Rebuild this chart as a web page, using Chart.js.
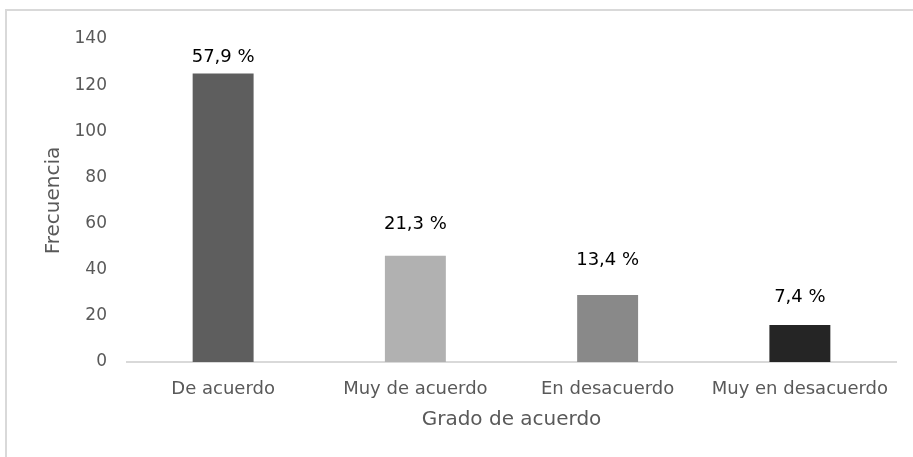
<!DOCTYPE html>
<html lang="es">
<head>
  <meta charset="UTF-8">
  <title>Grado de acuerdo</title>
  <script src="https://cdn.jsdelivr.net/npm/chart.js"></script>
  <style>
    html, body { margin: 0; background: #fff; overflow: hidden; font-family: "DejaVu Sans", Verdana, sans-serif; }
    .linea { position: absolute; background: #d9d9d9; }
    .arriba { left: 5px; top: 9px; width: 908px; height: 2px; }
    .izq { left: 5px; top: 9px; width: 2px; height: 448px; }
    .lienzo { position: absolute; left: 0; top: 0; width: 913px; height: 457px; }
  </style>
</head>
<body>

<div class="linea arriba"></div>
<div class="linea izq"></div>
<div class="lienzo"><canvas id="grafico"></canvas></div>

<script>
const categorias = ["De acuerdo", "Muy de acuerdo", "En desacuerdo", "Muy en desacuerdo"];
const frecuencias = [125, 46, 29, 16];
const porcentajes = ["57,9 %", "21,3 %", "13,4 %", "7,4 %"];
const colores = ["#5e5e5e", "#b1b1b1", "#898989", "#252525"];

const fuente = "'DejaVu Sans', Verdana, sans-serif";

// etiquetas de porcentaje sobre cada barra
const etiquetasPct = {
  id: "etiquetasPct",
  afterDatasetsDraw(chart, args, opts) {
    const ctx = chart.ctx;
    const meta = chart.getDatasetMeta(0);
    ctx.save();
    ctx.font = "18px " + fuente;
    ctx.fillStyle = "#000";
    ctx.textAlign = "center";
    ctx.textBaseline = "middle";
    meta.data.forEach((bar, i) => {
      ctx.fillText(porcentajes[i], bar.x, bar.y - opts.desplaz[i]);
    });
    ctx.restore();
  }
};

new Chart(document.getElementById("grafico"), {
  type: "bar",
  data: {
    labels: categorias,
    datasets: [{
      label: "Frecuencia",
      data: frecuencias,
      backgroundColor: colores,
      barPercentage: 1,
      categoryPercentage: 0.317
    }]
  },
  options: {
    responsive: true,
    maintainAspectRatio: false,
    animation: false,
    layout: { padding: { top: 39, right: 17, left: 0, bottom: 21 } },
    plugins: {
      legend: { display: false },
      tooltip: { enabled: false },
      etiquetasPct: { desplaz: [16, 32, 35, 28] }
    },
    scales: {
      x: {
        grid: { display: false, drawTicks: false },
        border: { color: "#d9d9d9", width: 2 },
        ticks: { color: "#595959", padding: 17, font: { family: fuente, size: 18 } },
        title: { display: true, text: "Grado de acuerdo", color: "#595959", padding: { top: 2 },
                 font: { family: fuente, size: 20 } },
        afterFit(scale) { scale.height = 74; }
      },
      y: {
        min: 0,
        max: 140,
        ticks: { stepSize: 20, color: "#595959", padding: 20, font: { family: fuente, size: 17 } },
        grid: { display: false, drawTicks: false },
        border: { display: false },
        title: { display: true, text: "Frecuencia", color: "#595959", padding: { top: 42 },
                 font: { family: fuente, size: 20 } },
        afterFit(scale) { scale.width = 127; }
      }
    }
  },
  plugins: [etiquetasPct]
});
</script>

</body>
</html>
